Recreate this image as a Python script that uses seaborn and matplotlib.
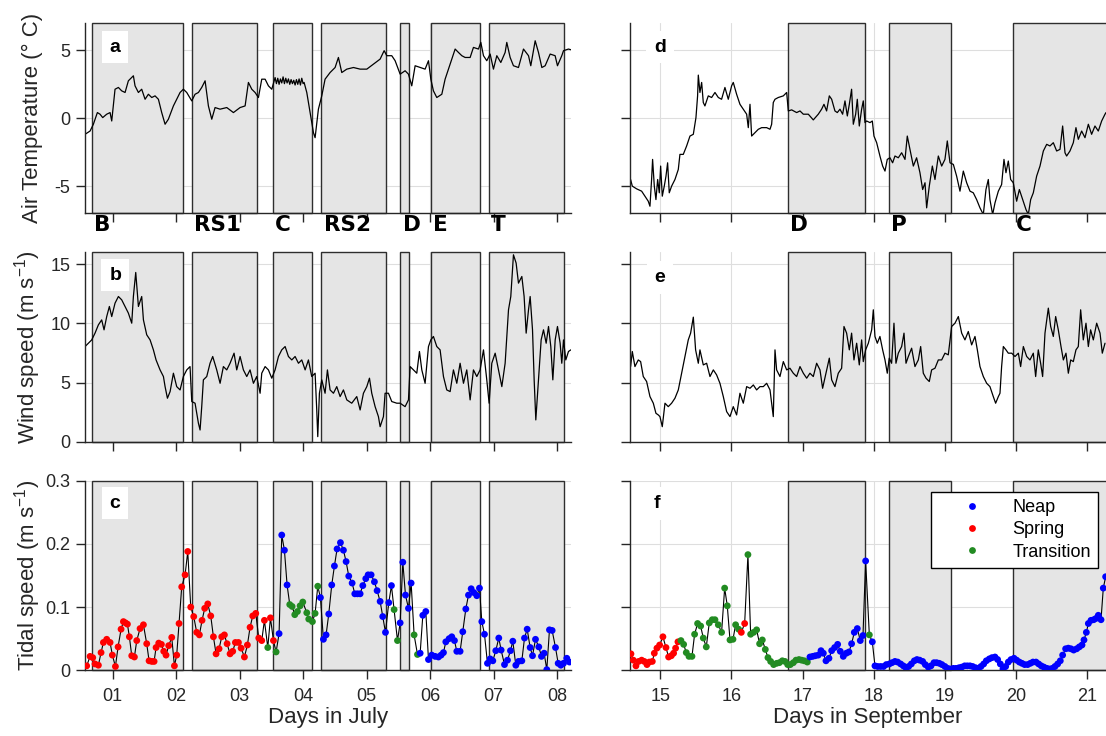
import matplotlib
matplotlib.use("Agg")
import matplotlib.pyplot as plt
import pandas as pd
import seaborn as sns

# ---------------------------------------------------------------- data
# July record (day of month, fractional)
july_air_day = [0.567, 0.646, 0.698, 0.761, 0.803, 0.845, 0.908, 0.961, 0.987, 1.039,
                1.092, 1.144, 1.197, 1.249, 1.328, 1.354, 1.407, 1.459, 1.512, 1.564,
                1.617, 1.669, 1.722, 1.774, 1.827, 1.879, 1.958, 2.063, 2.115, 2.168,
                2.247, 2.299, 2.352, 2.404, 2.457, 2.509, 2.562, 2.614, 2.693, 2.798,
                2.903, 3.008, 3.087, 3.139, 3.192, 3.244, 3.297, 3.349, 3.402, 3.454,
                3.507, 3.559, 3.580, 3.601, 3.622, 3.643, 3.664, 3.685, 3.706, 3.727,
                3.748, 3.769, 3.790, 3.811, 3.832, 3.853, 3.874, 3.895, 3.916, 3.937,
                3.958, 3.979, 4.000, 4.016, 4.058, 4.110, 4.163,
                4.189, 4.241, 4.294, 4.346, 4.425, 4.504, 4.556, 4.609, 4.688, 4.793,
                4.898, 5.003, 5.108, 5.213, 5.276, 5.318, 5.396, 5.449, 5.528, 5.606,
                5.659, 5.711, 5.764, 5.843, 5.921, 5.974, 6.011, 6.052, 6.105, 6.184,
                6.236, 6.289, 6.341, 6.394, 6.446, 6.499, 6.551, 6.630, 6.682, 6.761,
                6.798, 6.840, 6.892, 6.945, 6.997, 7.050, 7.113, 7.181, 7.207, 7.260,
                7.312, 7.391, 7.470, 7.549, 7.585, 7.654, 7.706, 7.759, 7.811, 7.890,
                7.968, 8.005, 8.073, 8.100, 8.178, 8.215]
july_air_temp = [-1.18, -0.94, -0.44, 0.42, 0.30, 0.05, 0.30, 0.42, -0.20, 2.14,
                 2.27, 2.02, 1.90, 2.76, 3.13, 2.39, 1.90, 2.14, 1.40, 1.77,
                 1.53, 1.65, 1.40, 0.42, -0.44, -0.07, 0.91, 1.90, 2.14, 1.90,
                 1.28, 1.77, 1.90, 2.27, 2.76, 0.91, -0.07, 0.79, 0.67, 0.79,
                 0.42, 0.79, 0.91, 2.64, 2.14, 1.90, 1.53, 2.88, 2.88, 2.39,
                 2.14, 3.00, 2.55, 2.95, 2.50, 2.90, 2.60, 3.05, 2.55, 2.95,
                 2.60, 2.90, 2.50, 2.85, 2.55, 2.80, 2.45, 2.85, 2.50, 2.90,
                 2.45, 2.95, 2.55, 2.64, 1.90, 0.42, -1.06,
                 -1.43, 0.67, 1.65, 2.88, 3.37, 3.74, 4.48, 3.37, 3.62, 3.74,
                 3.62, 3.62, 3.99, 4.36, 4.98, 4.61, 4.61, 4.24, 3.25, 3.50,
                 3.25, 2.39, 3.87, 3.74, 3.62, 4.24, 2.88, 2.02, 1.53, 1.77,
                 2.88, 3.62, 4.36, 5.10, 4.85, 4.61, 4.48, 4.48, 5.22, 5.10,
                 5.59, 4.61, 4.24, 4.73, 3.62, 4.61, 4.11, 4.85, 5.59, 4.48,
                 3.87, 3.74, 5.10, 4.61, 3.87, 5.71, 4.85, 3.74, 3.87, 4.73,
                 4.61, 3.87, 4.61, 4.98, 5.10, 5.05]

july_wind_day = [0.567, 0.619, 0.672, 0.724, 0.777, 0.829, 0.866, 0.908, 0.950, 0.987,
                 1.039, 1.092, 1.144, 1.197, 1.249, 1.302, 1.328, 1.365, 1.407, 1.459,
                 1.486, 1.538, 1.591, 1.643, 1.685, 1.748, 1.801, 1.827, 1.864, 1.906,
                 1.958, 2.010, 2.063, 2.115, 2.168, 2.220, 2.247, 2.299, 2.352, 2.378,
                 2.404, 2.430, 2.483, 2.535, 2.577, 2.640, 2.693, 2.745, 2.798, 2.850,
                 2.913, 2.955, 3.008, 3.060, 3.113, 3.165, 3.218, 3.270, 3.323, 3.349,
                 3.402, 3.454, 3.507, 3.559, 3.612, 3.664, 3.717, 3.769, 3.822, 3.874,
                 3.927, 3.979, 4.032, 4.084, 4.136, 4.189, 4.215, 4.231, 4.257, 4.294,
                 4.346, 4.383, 4.425, 4.478, 4.530, 4.583, 4.635, 4.688, 4.766, 4.845,
                 4.898, 4.950, 5.003, 5.045, 5.081, 5.134, 5.186, 5.213, 5.265, 5.291,
                 5.344, 5.396, 5.475, 5.528, 5.606, 5.659, 5.685, 5.738, 5.790, 5.832,
                 5.869, 5.921, 5.974, 6.011, 6.052, 6.105, 6.157, 6.210, 6.262, 6.315,
                 6.367, 6.420, 6.472, 6.525, 6.577, 6.630, 6.682, 6.735, 6.787, 6.840,
                 6.892, 6.929, 6.971, 7.024, 7.076, 7.129, 7.181, 7.234, 7.270, 7.312,
                 7.354, 7.391, 7.444, 7.480, 7.512, 7.549, 7.575, 7.612, 7.638, 7.664,
                 7.706, 7.748, 7.785, 7.827, 7.864, 7.900, 7.932, 7.969, 8.005, 8.047,
                 8.073, 8.100, 8.136, 8.178, 8.215]
july_wind_speed = [8.05, 8.33, 8.61, 9.18, 9.88, 10.30, 9.46, 10.58, 11.43, 10.58,
                   11.71, 12.27, 11.99, 11.43, 10.87, 10.02, 12.27, 14.30, 11.43, 12.27,
                   10.30, 9.04, 8.61, 7.77, 6.92, 6.08, 5.52, 4.67, 3.69, 4.25,
                   5.80, 4.67, 4.39, 5.52, 6.08, 6.36, 3.41, 3.27, 1.58, 1.01,
                   2.98, 5.24, 5.52, 6.64, 7.21, 6.08, 4.95, 6.36, 6.08, 6.64,
                   7.49, 6.08, 7.21, 6.08, 5.52, 6.08, 4.95, 5.52, 4.11, 5.80,
                   6.36, 6.08, 5.38, 6.08, 7.21, 7.77, 8.05, 7.21, 6.92, 7.21,
                   6.64, 6.92, 6.08, 6.92, 5.52, 5.80, 2.70, 0.45, 4.11, 5.24,
                   4.11, 6.08, 4.39, 4.11, 4.67, 3.83, 4.39, 3.55, 3.27, 3.83,
                   2.70, 4.11, 4.67, 5.38, 4.11, 2.98, 2.14, 1.29, 2.14, 4.11,
                   4.11, 3.41, 3.27, 3.27, 2.98, 3.55, 6.36, 6.08, 5.80, 7.63,
                   6.08, 4.95, 8.05, 8.61, 8.90, 8.05, 7.77, 5.52, 4.39, 4.25,
                   6.08, 4.95, 6.64, 4.95, 6.08, 3.55, 6.08, 5.52, 6.08, 7.77,
                   5.24, 3.27, 6.64, 7.49, 6.08, 4.67, 6.64, 11.15, 12.27, 15.79,
                   15.09, 13.40, 13.96, 12.27, 9.18, 11.15, 12.27, 9.46, 5.24, 1.86,
                   5.24, 8.61, 9.46, 8.33, 9.74, 8.05, 5.24, 8.61, 9.74, 8.33,
                   6.64, 8.61, 6.92, 7.63, 7.77]

july_tide_day = [0.593, 0.646, 0.688, 0.724, 0.777, 0.819, 0.856, 0.908, 0.961, 0.997,
                 1.045, 1.087, 1.134, 1.171, 1.203, 1.234, 1.265, 1.302, 1.344, 1.381,
                 1.433, 1.486, 1.538, 1.575, 1.617, 1.654, 1.685, 1.727, 1.769, 1.806,
                 1.842, 1.884, 1.932, 1.974, 2.010, 2.047, 2.089, 2.142, 2.184, 2.231,
                 2.278, 2.325, 2.367, 2.409, 2.451, 2.499, 2.546, 2.588, 2.630, 2.677,
                 2.719, 2.761, 2.803, 2.850, 2.892, 2.934, 2.982, 3.024, 3.076, 3.123,
                 3.165, 3.207, 3.255, 3.302, 3.349, 3.391, 3.444, 3.486, 3.533, 3.575,
                 3.622, 3.664, 3.706, 3.748, 3.790, 3.827, 3.869, 3.911, 3.953, 3.995,
                 4.058, 4.089, 4.147, 4.189, 4.231, 4.273, 4.320, 4.362, 4.404, 4.451,
                 4.493, 4.535, 4.588, 4.635, 4.677, 4.719, 4.772, 4.814, 4.856, 4.898,
                 4.940, 4.987, 5.024, 5.071, 5.123, 5.165, 5.213, 5.254, 5.297, 5.349,
                 5.391, 5.433, 5.486, 5.528, 5.570, 5.612, 5.659, 5.701, 5.748, 5.801,
                 5.843, 5.885, 5.932, 5.974, 6.026, 6.079, 6.131, 6.173, 6.210, 6.247,
                 6.299, 6.341, 6.383, 6.420, 6.472, 6.514, 6.562, 6.604, 6.646, 6.688,
                 6.735, 6.777, 6.814, 6.856, 6.903, 6.945, 6.987, 7.034, 7.081, 7.118,
                 7.171, 7.218, 7.265, 7.302, 7.349, 7.391, 7.444, 7.486, 7.528, 7.575,
                 7.612, 7.659, 7.711, 7.753, 7.795, 7.837, 7.879, 7.921, 7.974, 8.016,
                 8.058, 8.100, 8.152, 8.194]
july_tide_speed = [0.007, 0.022, 0.020, 0.010, 0.008, 0.028, 0.044, 0.049, 0.044, 0.024,
                   0.006, 0.037, 0.065, 0.077, 0.075, 0.073, 0.053, 0.023, 0.021, 0.047,
                   0.066, 0.072, 0.042, 0.015, 0.014, 0.014, 0.036, 0.043, 0.041, 0.030,
                   0.024, 0.039, 0.052, 0.007, 0.024, 0.074, 0.132, 0.151, 0.188, 0.100,
                   0.085, 0.060, 0.056, 0.079, 0.098, 0.105, 0.086, 0.053, 0.026, 0.034,
                   0.053, 0.056, 0.042, 0.026, 0.030, 0.044, 0.044, 0.035, 0.021, 0.040,
                   0.068, 0.086, 0.090, 0.051, 0.047, 0.079, 0.036, 0.083, 0.047, 0.029,
                   0.058, 0.214, 0.190, 0.135, 0.104, 0.101, 0.088, 0.093, 0.102, 0.108,
                   0.091, 0.081, 0.077, 0.090, 0.133, 0.115, 0.049, 0.056, 0.089, 0.135,
                   0.165, 0.192, 0.202, 0.190, 0.172, 0.149, 0.138, 0.121, 0.121, 0.121,
                   0.134, 0.145, 0.151, 0.151, 0.140, 0.126, 0.109, 0.085, 0.060, 0.107,
                   0.134, 0.096, 0.047, 0.075, 0.171, 0.119, 0.098, 0.138, 0.056, 0.025,
                   0.027, 0.087, 0.093, 0.017, 0.024, 0.022, 0.021, 0.024, 0.028, 0.045,
                   0.050, 0.053, 0.047, 0.030, 0.030, 0.061, 0.097, 0.119, 0.129, 0.123,
                   0.118, 0.130, 0.077, 0.057, 0.011, 0.018, 0.015, 0.031, 0.051, 0.032,
                   0.009, 0.016, 0.031, 0.046, 0.008, 0.014, 0.015, 0.051, 0.065, 0.036,
                   0.023, 0.049, 0.037, 0.022, 0.027, 0.001, 0.064, 0.063, 0.036, 0.011,
                   0.008, 0.011, 0.019, 0.013]
# tidal phase per sample: S = spring, N = neap, T = transition
july_tide_phase = "".join("""
SSSSSSSSSS SSSSSSSSSS SSSSSSSSSS SSSSSSSSSS SSSSSSSSSS SSSSSSSSSS SSSSSS
T SS T NNNN TTTTTTTTTT T
NNNNNNNNNN NNNNNNNNNN NNNNNN TT NNNNN TT
NNNNNNNNNN NNNNNNNNNN NNNNNNNNNN NNNNNNNNNN NNNNNNNNNN NNNN
""".split())

july_regions = ["B", "RS1", "C", "RS2", "D", "E", "T"]
july_region_start = [0.672, 2.252, 3.523, 4.289, 5.533, 6.011, 6.929]
july_region_end = [2.105, 3.271, 4.147, 5.313, 5.669, 6.792, 8.106]

# September record
sept_air_day = [14.583, 14.607, 14.668, 14.738, 14.785, 14.831, 14.855, 14.878, 14.892, 14.916,
                14.939, 14.963, 14.986, 15.005, 15.028, 15.056, 15.080, 15.103, 15.126, 15.159,
                15.206, 15.253, 15.276, 15.323, 15.370, 15.417, 15.464, 15.501, 15.524, 15.534,
                15.557, 15.581, 15.604, 15.627, 15.674, 15.721, 15.768, 15.815, 15.861, 15.908,
                15.955, 16.002, 16.025, 16.072, 16.119, 16.166, 16.213, 16.236, 16.260, 16.283,
                16.330, 16.377, 16.424, 16.494, 16.541, 16.564, 16.587, 16.611, 16.657, 16.728,
                16.775, 16.798, 16.845, 16.915, 16.962, 17.009, 17.079, 17.149, 17.219, 17.266,
                17.299, 17.336, 17.374, 17.407, 17.453, 17.486, 17.524, 17.561, 17.594, 17.627,
                17.655, 17.687, 17.711, 17.744, 17.767, 17.795, 17.828, 17.851, 17.875, 17.898,
                17.945, 17.978, 18.001, 18.039, 18.085, 18.123, 18.156, 18.188, 18.226, 18.263,
                18.296, 18.343, 18.390, 18.437, 18.469, 18.507, 18.554, 18.600, 18.647, 18.685,
                18.718, 18.741, 18.778, 18.821, 18.858, 18.905, 18.952, 18.998, 19.031, 19.069,
                19.116, 19.162, 19.209, 19.256, 19.303, 19.350, 19.396, 19.443, 19.490, 19.537,
                19.574, 19.607, 19.630, 19.668, 19.701, 19.748, 19.794, 19.827, 19.855, 19.888,
                19.921, 19.958, 20.005, 20.043, 20.089, 20.136, 20.169, 20.202, 20.239, 20.286,
                20.333, 20.380, 20.427, 20.473, 20.520, 20.567, 20.614, 20.651, 20.684, 20.707,
                20.754, 20.801, 20.838, 20.871, 20.918, 20.965, 21.012, 21.058, 21.105, 21.152,
                21.199, 21.246, 21.260]
sept_air_temp = [-4.51, -5.00, -5.20, -5.37, -5.74, -6.11, -6.48, -4.51, -3.03, -5.00,
                 -5.99, -4.51, -5.49, -3.52, -5.74, -5.00, -4.26, -3.28, -5.49, -5.00,
                 -4.51, -3.77, -2.66, -2.66, -2.04, -1.31, -1.18, 0.05, 1.65, 3.18,
                 1.90, 2.64, 1.16, 0.91, 1.65, 1.53, 1.90, 1.53, 1.40, 2.27,
                 1.40, 2.39, 2.64, 1.77, 1.03, 0.67, 0.30, -0.69, 1.03, -1.31,
                 -1.06, -0.81, -0.69, -0.69, -0.81, -0.44, 1.16, 1.40, 1.53, 1.65,
                 1.90, 0.54, 0.62, 0.42, 0.54, 0.30, 0.30, -0.12, 0.30, 0.67,
                 1.03, 0.54, 1.65, 1.40, 0.54, 0.42, 0.67, 0.30, 1.28, 0.17,
                 1.03, 2.14, -0.44, 0.30, 1.40, -0.57, 0.67, 1.28, -0.32, -0.20,
                 -0.32, -0.20, -1.31, -1.80, -2.78, -3.52, -3.89, -3.03, -2.91, -3.28,
                 -2.78, -2.91, -2.54, -3.03, -1.31, -2.29, -3.52, -2.91, -4.01, -5.25,
                 -4.75, -6.60, -5.00, -3.52, -4.51, -2.78, -3.52, -3.03, -1.67, -3.28,
                 -3.40, -4.26, -5.37, -3.89, -4.75, -5.37, -5.49, -5.99, -6.60, -7.09,
                 -5.25, -4.51, -5.99, -7.09, -6.23, -5.37, -4.88, -3.03, -4.01, -3.15,
                 -4.51, -4.75, -6.11, -5.25, -5.99, -6.72, -7.09, -5.99, -5.49, -4.26,
                 -3.52, -2.41, -1.92, -2.04, -1.80, -2.41, -2.29, -0.57, -2.54, -2.78,
                 -2.41, -1.80, -0.69, -1.55, -0.94, -1.43, -0.44, -1.18, -0.57, -0.94,
                 -0.20, 0.30, 0.42]

sept_wind_day = [14.583, 14.607, 14.644, 14.691, 14.724, 14.761, 14.808, 14.855, 14.902, 14.939,
                 14.972, 14.995, 15.028, 15.066, 15.112, 15.159, 15.206, 15.253, 15.300, 15.346,
                 15.393, 15.426, 15.464, 15.496, 15.534, 15.557, 15.604, 15.651, 15.698, 15.745,
                 15.791, 15.838, 15.885, 15.932, 15.979, 16.025, 16.072, 16.119, 16.166, 16.213,
                 16.260, 16.307, 16.353, 16.400, 16.447, 16.494, 16.541, 16.587, 16.611, 16.634,
                 16.681, 16.728, 16.775, 16.821, 16.868, 16.915, 16.962, 17.009, 17.056, 17.102,
                 17.149, 17.196, 17.243, 17.280, 17.327, 17.374, 17.407, 17.453, 17.500, 17.547,
                 17.580, 17.617, 17.655, 17.687, 17.720, 17.758, 17.795, 17.828, 17.851, 17.884,
                 17.922, 17.969, 17.992, 18.015, 18.048, 18.085, 18.123, 18.156, 18.188, 18.216,
                 18.249, 18.282, 18.310, 18.343, 18.390, 18.423, 18.451, 18.484, 18.530, 18.577,
                 18.624, 18.657, 18.694, 18.732, 18.778, 18.811, 18.858, 18.905, 18.952, 18.998,
                 19.045, 19.092, 19.139, 19.186, 19.233, 19.279, 19.326, 19.373, 19.420, 19.453,
                 19.490, 19.537, 19.584, 19.630, 19.677, 19.710, 19.748, 19.771, 19.794, 19.818,
                 19.855, 19.888, 19.935, 19.982, 20.029, 20.061, 20.099, 20.146, 20.192, 20.239,
                 20.272, 20.309, 20.342, 20.370, 20.403, 20.450, 20.483, 20.520, 20.553, 20.590,
                 20.628, 20.661, 20.698, 20.731, 20.764, 20.801, 20.838, 20.871, 20.904, 20.941,
                 20.979, 21.012, 21.044, 21.082, 21.129, 21.176, 21.208, 21.246]
sept_wind_speed = [6.36, 7.63, 6.36, 6.92, 6.78, 5.52, 5.10, 3.83, 3.27, 2.42,
                   2.28, 2.14, 1.29, 3.27, 2.98, 3.27, 3.69, 4.39, 5.80, 7.21,
                   8.61, 9.18, 10.53, 7.77, 6.64, 7.77, 6.50, 6.64, 5.52, 6.08,
                   5.66, 4.95, 3.83, 2.56, 2.14, 2.98, 2.28, 4.11, 3.27, 4.67,
                   4.53, 4.81, 4.39, 4.67, 4.67, 4.95, 4.39, 2.14, 7.77, 6.08,
                   5.52, 6.78, 6.08, 6.22, 5.80, 5.52, 6.36, 5.80, 5.38, 5.80,
                   5.52, 6.64, 6.08, 4.53, 5.80, 7.07, 5.24, 4.67, 5.80, 6.22,
                   9.74, 9.18, 7.77, 9.18, 6.92, 8.33, 6.50, 8.61, 6.78, 7.77,
                   8.33, 9.46, 11.15, 8.90, 8.33, 8.90, 7.77, 6.92, 5.80, 7.07,
                   6.64, 10.02, 6.64, 7.49, 8.05, 9.18, 6.64, 7.21, 7.91, 6.36,
                   6.92, 8.05, 5.80, 5.38, 5.10, 6.08, 6.22, 6.92, 6.92, 7.49,
                   7.35, 9.74, 10.02, 10.58, 9.18, 8.61, 9.32, 8.19, 8.90, 7.77,
                   6.36, 5.52, 4.95, 4.67, 3.83, 3.27, 3.83, 4.11, 6.36, 8.05,
                   7.77, 7.49, 7.49, 7.21, 7.49, 6.36, 8.05, 7.21, 6.92, 7.49,
                   5.52, 7.77, 6.64, 5.52, 9.18, 11.29, 9.74, 8.90, 10.58, 9.46,
                   8.05, 6.92, 7.49, 5.80, 6.92, 6.78, 7.77, 8.05, 11.15, 8.61,
                   10.02, 8.05, 9.46, 8.61, 10.02, 9.18, 7.49, 8.33]

sept_tide_day = [14.588, 14.621, 14.658, 14.696, 14.738, 14.775, 14.813, 14.845, 14.888, 14.916,
                 14.953, 14.991, 15.037, 15.080, 15.117, 15.155, 15.187, 15.215, 15.248, 15.290,
                 15.328, 15.365, 15.403, 15.445, 15.482, 15.524, 15.567, 15.604, 15.646, 15.688,
                 15.730, 15.768, 15.815, 15.861, 15.904, 15.941, 15.979, 16.021, 16.058, 16.100,
                 16.138, 16.185, 16.231, 16.269, 16.311, 16.353, 16.395, 16.433, 16.475, 16.512,
                 16.550, 16.592, 16.634, 16.672, 16.714, 16.751, 16.789, 16.826, 16.868, 16.906,
                 16.948, 16.985, 17.023, 17.065, 17.102, 17.140, 17.177, 17.219, 17.257, 17.290,
                 17.327, 17.369, 17.407, 17.449, 17.491, 17.528, 17.570, 17.613, 17.650, 17.687,
                 17.725, 17.767, 17.809, 17.847, 17.884, 17.936, 17.978, 18.015, 18.053, 18.095,
                 18.137, 18.174, 18.217, 18.254, 18.296, 18.334, 18.376, 18.413, 18.451, 18.488,
                 18.526, 18.568, 18.605, 18.643, 18.685, 18.722, 18.764, 18.802, 18.844, 18.881,
                 18.919, 18.956, 18.998, 19.036, 19.073, 19.116, 19.153, 19.195, 19.233, 19.275,
                 19.312, 19.350, 19.387, 19.429, 19.467, 19.504, 19.542, 19.579, 19.621, 19.659,
                 19.701, 19.738, 19.776, 19.813, 19.851, 19.888, 19.926, 19.968, 20.005, 20.043,
                 20.080, 20.117, 20.160, 20.197, 20.234, 20.277, 20.314, 20.351, 20.389, 20.431,
                 20.468, 20.506, 20.543, 20.581, 20.618, 20.651, 20.693, 20.731, 20.768, 20.806,
                 20.848, 20.885, 20.923, 20.951, 20.984, 21.012, 21.049, 21.087, 21.119, 21.152,
                 21.190, 21.222, 21.255]
sept_tide_speed = [0.026, 0.016, 0.007, 0.014, 0.016, 0.014, 0.009, 0.013, 0.014, 0.027,
                   0.035, 0.040, 0.053, 0.036, 0.021, 0.023, 0.027, 0.035, 0.045, 0.047,
                   0.041, 0.028, 0.022, 0.022, 0.057, 0.074, 0.070, 0.051, 0.037, 0.075,
                   0.080, 0.080, 0.072, 0.060, 0.130, 0.102, 0.048, 0.049, 0.072, 0.065,
                   0.060, 0.074, 0.183, 0.057, 0.060, 0.064, 0.042, 0.048, 0.033, 0.020,
                   0.014, 0.009, 0.011, 0.012, 0.015, 0.014, 0.009, 0.009, 0.012, 0.016,
                   0.017, 0.016, 0.015, 0.013, 0.021, 0.022, 0.023, 0.024, 0.031, 0.027,
                   0.015, 0.019, 0.031, 0.036, 0.041, 0.030, 0.022, 0.027, 0.029, 0.042,
                   0.060, 0.066, 0.047, 0.055, 0.173, 0.056, 0.045, 0.007, 0.006, 0.006,
                   0.006, 0.009, 0.010, 0.012, 0.014, 0.013, 0.010, 0.007, 0.004, 0.006,
                   0.010, 0.015, 0.017, 0.016, 0.014, 0.009, 0.005, 0.007, 0.012, 0.012,
                   0.011, 0.009, 0.006, 0.003, 0.002, 0.003, 0.003, 0.004, 0.005, 0.007,
                   0.007, 0.007, 0.006, 0.004, 0.003, 0.006, 0.010, 0.015, 0.018, 0.020,
                   0.021, 0.017, 0.010, 0.002, 0.006, 0.013, 0.017, 0.019, 0.016, 0.013,
                   0.011, 0.009, 0.009, 0.011, 0.013, 0.013, 0.010, 0.007, 0.005, 0.003,
                   0.002, 0.003, 0.006, 0.010, 0.015, 0.024, 0.034, 0.035, 0.034, 0.032,
                   0.034, 0.037, 0.040, 0.048, 0.060, 0.074, 0.079, 0.080, 0.082, 0.087,
                   0.080, 0.130, 0.148]
sept_tide_phase = "".join("""
SSSSSSSSSS SSSSSSSSS
TTTTTTTTTT TTTTTTTTTT T
SS
TTTTTTTTTT TTTTTTTTTT TT
NNNNNNNNNN NNNNNNNNNN N
T
NNNNNNNNNN NNNNNNNNNN NNNNNNNNNN NNNNNNNNNN NNNNNNNNNN NNNNNNNNNN
NNNNNNNNNN NNNNNNNNNN NNNNNNN
""".split())

sept_regions = ["D", "P", "C"]
sept_region_start = [16.795, 18.213, 19.960]
sept_region_end = [17.880, 19.084, 21.600]

phase_names = {"S": "Spring", "N": "Neap", "T": "Transition"}
phase_order = ["Neap", "Spring", "Transition"]
phase_colors = {"Neap": "#0000ff", "Spring": "#ff0000", "Transition": "#228b22"}

july_ticks = [1, 2, 3, 4, 5, 6, 7, 8]
july_ticklabels = ["01", "02", "03", "04", "05", "06", "07", "08"]
sept_ticks = [15, 16, 17, 18, 19, 20, 21]
sept_ticklabels = ["15", "16", "17", "18", "19", "20", "21"]

temp_ticks = [-5, 0, 5]
temp_ticklabels = ["-5", "0", "5"]
wind_ticks = [0, 5, 10, 15]
wind_ticklabels = ["0", "5", "10", "15"]
tide_ticks = [0, 0.1, 0.2, 0.3]
tide_ticklabels = ["0", "0.1", "0.2", "0.3"]

# ---------------------------------------------------------------- style
sns.set_theme(style="white")
plt.rcParams["font.family"] = ["Liberation Sans", "DejaVu Sans"]
plt.rcParams["mathtext.default"] = "regular"
plt.rcParams["axes.unicode_minus"] = False

AX_COLOR = "#262626"
GRID_COLOR = "#dedede"
SHADE_FACE = "#e5e5e5"
SHADE_EDGE = "#2e2e2e"

fig = plt.figure(figsize=(11.06, 7.36), dpi=100)
left_x, left_w = 0.0769, 0.4392
right_x, right_w = 0.5699, 0.4301
rows = [(0.7102, 0.2582), (0.3995, 0.2577), (0.0893, 0.2576)]
ax_grid = [[fig.add_axes([left_x, b, left_w, h]), fig.add_axes([right_x, b, right_w, h])]
           for b, h in rows]


def shade(ax, starts, ends):
    for s, e in zip(starts, ends):
        ax.axvspan(s, e, facecolor=SHADE_FACE, edgecolor=SHADE_EDGE, lw=1.0,
                   zorder=1, clip_on=False)


def style_axes(ax, xlim, xticks, xticklabels, ylim, yticks, yticklabels, show_x, show_y):
    ax.set_xlim(*xlim)
    ax.set_ylim(*ylim)
    ax.set_xticks(xticks)
    ax.set_xticklabels(xticklabels)
    ax.set_yticks(yticks)
    ax.set_yticklabels(yticklabels)
    ax.grid(True, color=GRID_COLOR, lw=0.8)
    ax.set_axisbelow(True)
    for side in ("top", "right"):
        ax.spines[side].set_visible(False)
    for side in ("left", "bottom"):
        ax.spines[side].set_color(AX_COLOR)
        ax.spines[side].set_linewidth(1.0)
        ax.spines[side].set_zorder(2.5)
    ax.tick_params(axis="both", direction="out", length=6.5, width=1.0,
                   color=AX_COLOR, labelsize=13, labelcolor=AX_COLOR,
                   bottom=True, left=True, labelbottom=show_x, labelleft=show_y)
    ax.tick_params(axis="x", pad=6)
    ax.tick_params(axis="y", pad=4)
    ax.set_xlabel("")
    ax.set_ylabel("")


def panel_letter(ax, letter, x, y):
    ax.text(x, y, letter, transform=ax.transAxes, ha="center", va="center",
            fontsize=14, fontweight="bold", color="black", zorder=5,
            bbox=dict(boxstyle="square,pad=0.4", fc="white", ec="none"))


def region_labels(ax, names, starts):
    for name, s in zip(names, starts):
        ax.annotate(name, xy=(s, 0), xycoords=("data", "axes fraction"),
                    xytext=(1.5, -1), textcoords="offset points",
                    ha="left", va="top", fontsize=15.5, fontweight="bold",
                    family="DejaVu Sans", color="black", annotation_clip=False)


july_xlim = (0.567, 8.215)
sept_xlim = (14.579, 21.26)

# ---------------------------------------------------------------- air temperature
for col, (day, temp, starts, ends, xlim, ticks, labels) in enumerate([
        (july_air_day, july_air_temp, july_region_start, july_region_end,
         july_xlim, july_ticks, july_ticklabels),
        (sept_air_day, sept_air_temp, sept_region_start, sept_region_end,
         sept_xlim, sept_ticks, sept_ticklabels)]):
    ax = ax_grid[0][col]
    shade(ax, starts, ends)
    sns.lineplot(x=day, y=temp, ax=ax, color="black", lw=0.9,
                 estimator=None, sort=False, zorder=2)
    style_axes(ax, xlim, ticks, labels, (-7, 7), temp_ticks, temp_ticklabels,
               show_x=False, show_y=(col == 0))

# ---------------------------------------------------------------- wind speed
for col, (day, speed, starts, ends, xlim, ticks, labels) in enumerate([
        (july_wind_day, july_wind_speed, july_region_start, july_region_end,
         july_xlim, july_ticks, july_ticklabels),
        (sept_wind_day, sept_wind_speed, sept_region_start, sept_region_end,
         sept_xlim, sept_ticks, sept_ticklabels)]):
    ax = ax_grid[1][col]
    shade(ax, starts, ends)
    sns.lineplot(x=day, y=speed, ax=ax, color="black", lw=0.9,
                 estimator=None, sort=False, zorder=2)
    style_axes(ax, xlim, ticks, labels, (0, 16), wind_ticks, wind_ticklabels,
               show_x=False, show_y=(col == 0))

# ---------------------------------------------------------------- tidal speed
for col, (day, speed, phase, starts, ends, xlim, ticks, labels) in enumerate([
        (july_tide_day, july_tide_speed, july_tide_phase, july_region_start,
         july_region_end, july_xlim, july_ticks, july_ticklabels),
        (sept_tide_day, sept_tide_speed, sept_tide_phase, sept_region_start,
         sept_region_end, sept_xlim, sept_ticks, sept_ticklabels)]):
    ax = ax_grid[2][col]
    shade(ax, starts, ends)
    tide = pd.DataFrame({"day": day, "speed": speed,
                         "phase": [phase_names[c] for c in phase]})
    sns.lineplot(data=tide, x="day", y="speed", ax=ax, color="black", lw=0.8,
                 estimator=None, sort=False, zorder=2)
    sns.scatterplot(data=tide, x="day", y="speed", hue="phase", hue_order=phase_order,
                    palette=phase_colors, s=24, linewidth=0, ax=ax, zorder=3,
                    legend=(col == 1))
    style_axes(ax, xlim, ticks, labels, (0, 0.3), tide_ticks, tide_ticklabels,
               show_x=True, show_y=(col == 0))

# legend for the tidal phases
ax_f = ax_grid[2][1]
handles, labels = ax_f.get_legend_handles_labels()
leg = ax_f.legend(handles, labels, loc="upper right", bbox_to_anchor=(0.983, 0.942),
                  frameon=True, fancybox=False, edgecolor="black", framealpha=1,
                  fontsize=13, handlelength=3.8, handletextpad=0.3, borderpad=0.4,
                  labelspacing=0.3, borderaxespad=0)
leg.get_frame().set_linewidth(1.0)
for t in leg.get_texts():
    t.set_color("black")

# ---------------------------------------------------------------- labels
ylabels = ["Air Temperature (° C)", "Wind speed (m s$^{-1}$)", "Tidal speed (m s$^{-1}$)"]
for r, text in enumerate(ylabels):
    ax = ax_grid[r][0]
    ax.set_ylabel(text, fontsize=16, color=AX_COLOR)
    ax.yaxis.set_label_coords(-0.087, 0.5)

ax_grid[2][0].set_xlabel("Days in July", fontsize=16, color=AX_COLOR, labelpad=2)
ax_grid[2][1].set_xlabel("Days in September", fontsize=16, color=AX_COLOR, labelpad=2)

letter_pos = [[("a", 0.062, 0.875), ("d", 0.062, 0.875)],
              [("b", 0.062, 0.880), ("e", 0.062, 0.868)],
              [("c", 0.062, 0.882), ("f", 0.056, 0.880)]]
for r in range(3):
    for c in range(2):
        letter, x, y = letter_pos[r][c]
        panel_letter(ax_grid[r][c], letter, x, y)

region_labels(ax_grid[0][0], july_regions, july_region_start)
region_labels(ax_grid[0][1], sept_regions, sept_region_start)

fig.savefig("out.png", dpi=100)
